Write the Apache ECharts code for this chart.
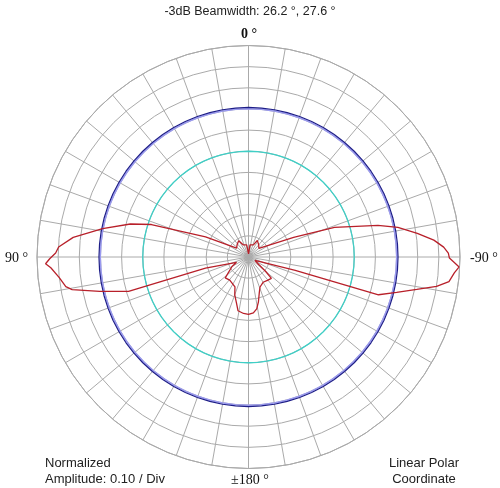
<!DOCTYPE html>
<html>
<head>
<meta charset="utf-8">
<script src="https://cdn.jsdelivr.net/npm/echarts@6/dist/echarts.min.js"></script>
<style>
html,body{margin:0;padding:0;background:#fff;}
#chart{width:500px;height:488px;}
</style>
</head>
<body>
<div id="chart"></div>
<script>
// Measured radiation pattern (angle in degrees, 0 = top, +90 = left, -90 = right)
const patternAngles = [
  -180, -175, -171, -167.5, -163, -159, -150, -141, -133, -130, -126, -118,
  -106, -106.2, -103.4, -100.9, -98.9, -97, -94.4, -92.7, -90.3, -88.9, -87.1,
  -84.8, -82, -78.8, -76.3, -71, -66.4, -50, -40, -28, -22, -7, -1, 1, 8.5,
  23, 31, 42, 53.6, 65, 71.5, 74.4, 79, 83.6, 87, 88.8, 90.5, 91.9, 93.1, 96.2,
  99.2, 100.5, 103, 106, 104.6, 114, 120, 132, 141, 155.6, 160, 165, 169, 175, 180
];
const patternAmplitude = [
  0.271, 0.265, 0.248, 0.217, 0.175, 0.152, 0.138, 0.142, 0.148, 0.105, 0.06, 0.035,
  0.23, 0.64, 0.72, 0.81, 0.90, 0.955, 0.976, 0.997, 0.95, 0.945, 0.924,
  0.88, 0.806, 0.72, 0.63, 0.43, 0.233, 0.064, 0.075, 0.089, 0.062, 0.058, 0.015, 0.015, 0.058,
  0.062, 0.09, 0.08, 0.07, 0.224, 0.484, 0.58, 0.703, 0.834, 0.899, 0.912, 0.94, 0.96, 0.936, 0.90,
  0.875, 0.848, 0.722, 0.59, 0.21, 0.062, 0.09, 0.148, 0.141, 0.155, 0.19, 0.222, 0.259, 0.268, 0.271
];
// Reference levels
const halfPowerLevel = 0.707;   // -3 dB
const halfAmpLevel = 0.5;       // -6 dB
const titleText = '-3dB Beamwidth: 26.2 °, 27.6 °';
const angleLabels = ['0 °', '90 °', '-90 °', '±180 °'];

const patternData = patternAngles.map((a, i) => [patternAmplitude[i], a]);
function ring(level) {
  const pts = [];
  for (let a = -180; a <= 180; a += 5) pts.push([level, a]);
  return pts;
}

const chart = echarts.init(document.getElementById('chart'), null, {renderer: 'canvas'});
const gridColor = '#aaaaaa';
chart.setOption({
  backgroundColor: '#ffffff',
  animation: false,
  polar: {center: [248.5, 257], radius: 211.5},
  angleAxis: {
    type: 'value', min: -180, max: 180, interval: 10,
    startAngle: 270, clockwise: false,
    axisLine: {show: true, lineStyle: {color: gridColor, width: 1}},
    axisTick: {show: false}, axisLabel: {show: false},
    splitLine: {show: true, lineStyle: {color: gridColor, width: 1}}
  },
  radiusAxis: {
    type: 'value', min: 0, max: 1, interval: 0.1,
    axisLine: {show: false}, axisTick: {show: false}, axisLabel: {show: false},
    splitLine: {show: true, lineStyle: {color: gridColor, width: 1}}
  },
  series: [
    {type: 'line', coordinateSystem: 'polar', data: ring(halfAmpLevel), symbol: 'none',
     lineStyle: {color: '#3fcfc6', width: 1.3}, silent: true},
    {type: 'line', coordinateSystem: 'polar', data: ring(halfPowerLevel - 0.006), symbol: 'none',
     lineStyle: {color: '#9a9af0', width: 1.6}, silent: true},
    {type: 'line', coordinateSystem: 'polar', data: ring(halfPowerLevel), symbol: 'none',
     lineStyle: {color: '#1e1e88', width: 1.2}, silent: true},
    {type: 'line', coordinateSystem: 'polar', data: patternData, symbol: 'none',
     lineStyle: {color: '#b8202a', width: 1.3}, silent: true}
  ],
  graphic: [
    {type: 'text', x: 250, y: 12, style: {text: titleText, font: '12.5px "Liberation Sans", Arial, sans-serif', fill: '#222', textAlign: 'center', textVerticalAlign: 'middle'}},
    {type: 'text', x: 249, y: 34, style: {text: angleLabels[0], font: 'bold 14px "Liberation Serif", serif', fill: '#111', textAlign: 'center', textVerticalAlign: 'middle'}},
    {type: 'text', x: 5, y: 258, style: {text: angleLabels[1], font: '14px "Liberation Serif", serif', fill: '#111', textAlign: 'left', textVerticalAlign: 'middle'}},
    {type: 'text', x: 470, y: 258, style: {text: angleLabels[2], font: '14px "Liberation Serif", serif', fill: '#111', textAlign: 'left', textVerticalAlign: 'middle'}},
    {type: 'text', x: 250, y: 480, style: {text: angleLabels[3], font: '14px "Liberation Serif", serif', fill: '#111', textAlign: 'center', textVerticalAlign: 'middle'}},
    {type: 'text', x: 45, y: 463, style: {text: 'Normalized', font: '13px "Liberation Sans", Arial, sans-serif', fill: '#222', textAlign: 'left', textVerticalAlign: 'middle'}},
    {type: 'text', x: 45, y: 479, style: {text: 'Amplitude: 0.10 / Div', font: '13px "Liberation Sans", Arial, sans-serif', fill: '#222', textAlign: 'left', textVerticalAlign: 'middle'}},
    {type: 'text', x: 424, y: 463, style: {text: 'Linear Polar', font: '13px "Liberation Sans", Arial, sans-serif', fill: '#222', textAlign: 'center', textVerticalAlign: 'middle'}},
    {type: 'text', x: 424, y: 479, style: {text: 'Coordinate', font: '13px "Liberation Sans", Arial, sans-serif', fill: '#222', textAlign: 'center', textVerticalAlign: 'middle'}}
  ]
});
</script>
</body>
</html>
